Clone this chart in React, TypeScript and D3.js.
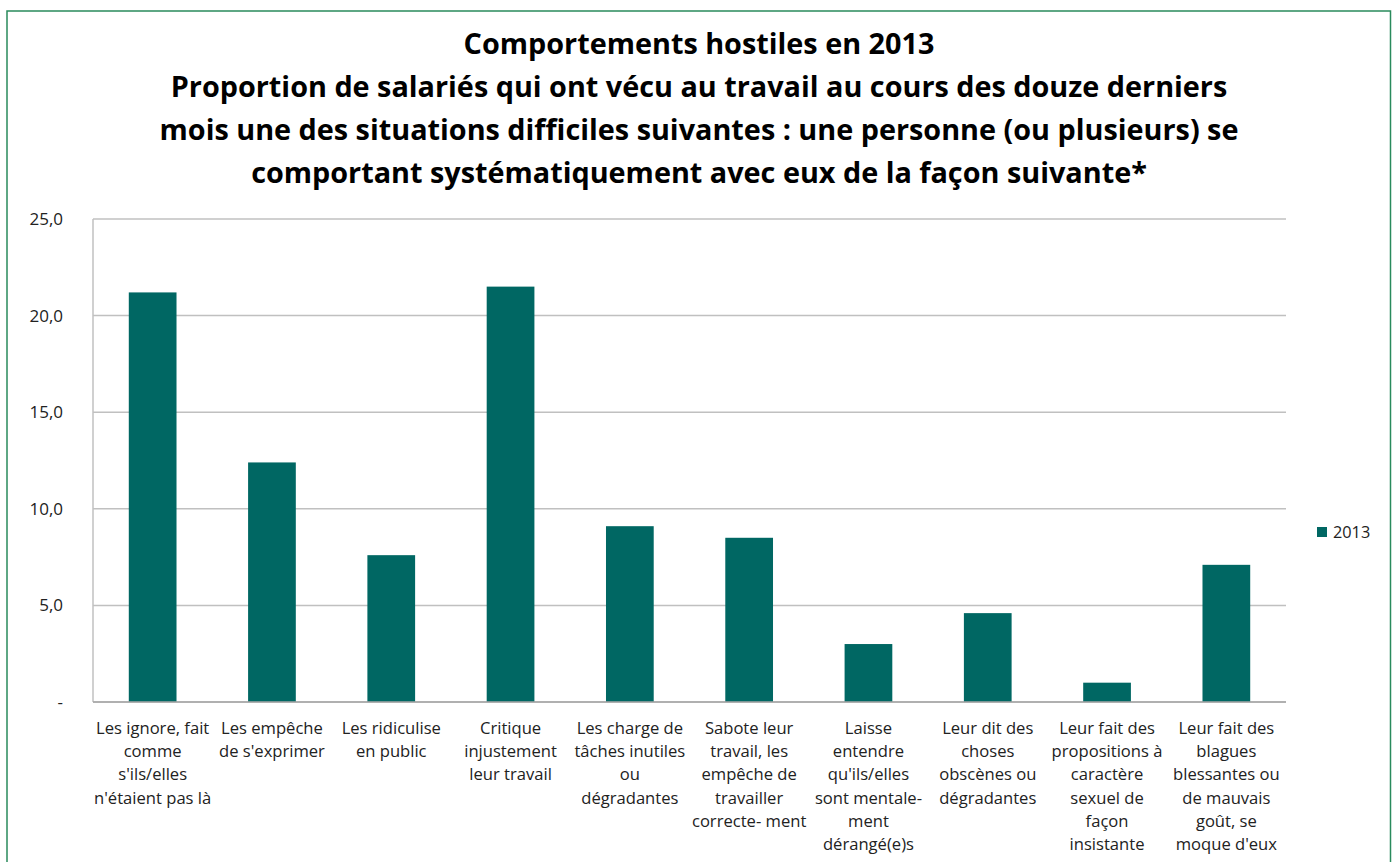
import React from "react";
import * as d3 from "d3";

const titleLines = [
  "Comportements hostiles en 2013",
  "Proportion de salariés qui ont vécu au travail au cours des douze derniers",
  "mois une des situations difficiles suivantes : une personne (ou plusieurs) se",
  "comportant systématiquement avec eux de la façon suivante*",
];

const categories = [
  "Les ignore, fait\ncomme\ns'ils/elles\nn'étaient pas là",
  "Les empêche\nde s'exprimer",
  "Les ridiculise\nen public",
  "Critique\ninjustement\nleur travail",
  "Les charge de\ntâches inutiles\nou\ndégradantes",
  "Sabote leur\ntravail, les\nempêche de\ntravailler\ncorrecte- ment",
  "Laisse\nentendre\nqu'ils/elles\nsont mentale-\nment\ndérangé(e)s",
  "Leur dit des\nchoses\nobscènes ou\ndégradantes",
  "Leur fait des\npropositions à\ncaractère\nsexuel de\nfaçon\ninsistante",
  "Leur fait des\nblagues\nblessantes ou\nde mauvais\ngoût, se\nmoque d'eux",
];

const values2013 = [21.2, 12.4, 7.6, 21.5, 9.1, 8.5, 3.0, 4.6, 1.0, 7.1];

const yTicks = [0, 5, 10, 15, 20, 25];
const seriesName = "2013";

const W = 1394;
const H = 862;
const plot = { left: 93, right: 1286, top: 219, bottom: 702 };
const barColor = "#006763";
const gridColor = "#c0c0c0";
const font = "'Open Sans', 'DejaVu Sans', sans-serif";

export default function App() {
  const x = d3
    .scaleBand<string>()
    .domain(categories)
    .range([plot.left, plot.right])
    .paddingInner(0.6)
    .paddingOuter(0.3);
  const y = d3.scaleLinear().domain([0, 25]).range([plot.bottom, plot.top]);
  const fmt = (v: number) => (v === 0 ? "-" : v.toFixed(1).replace(".", ","));
  const step = (plot.right - plot.left) / categories.length;

  return (
    <svg
      width={W}
      height={H}
      style={{ position: "absolute", left: 0, top: 0, background: "#fff" }}
      fontFamily={font}
    >
      <rect x={7} y={11} width={1383.5} height={870} fill="#fff" stroke="#2a8a5c" strokeWidth={1.5} />
      {titleLines.map((t, i) => (
        <text
          key={i}
          x={699}
          y={54 + i * 43}
          textAnchor="middle"
          fontWeight="bold"
          fontSize={28.8}
          fill="#000"
        >
          {t}
        </text>
      ))}
      {yTicks.map((t) => (
        <g key={t}>
          <line x1={plot.left} x2={plot.right} y1={y(t)} y2={y(t)} stroke={gridColor} strokeWidth={1.5} />
          <text x={63} y={y(t)} dy="0.35em" textAnchor="end" fontSize={17} fill="#222">
            {fmt(t)}
          </text>
        </g>
      ))}
      <line x1={plot.left} x2={plot.left} y1={plot.top} y2={plot.bottom} stroke={gridColor} strokeWidth={1.5} />
      {categories.map((c, i) => (
        <rect
          key={i}
          x={x(c)}
          y={y(values2013[i])}
          width={x.bandwidth()}
          height={plot.bottom - y(values2013[i])}
          fill={barColor}
        />
      ))}
      <line x1={plot.left} x2={plot.right} y1={plot.bottom} y2={plot.bottom} stroke="#a6a6a6" strokeWidth={1.5} />
      {categories.map((c, i) => (
        <text
          key={i}
          x={plot.left + step * (i + 0.5)}
          textAnchor="middle"
          fontSize={16.6}
          fill="#222"
        >
          {c.split("\n").map((l, j) => (
            <tspan key={j} x={plot.left + step * (i + 0.5)} y={734 + j * 23.2}>
              {l}
            </tspan>
          ))}
        </text>
      ))}
      <rect x={1317} y={527} width={10} height={10} fill={barColor} />
      <text x={1333} y={532} dy="0.35em" fontSize={16.3} fill="#222">
        {seriesName}
      </text>
    </svg>
  );
}
